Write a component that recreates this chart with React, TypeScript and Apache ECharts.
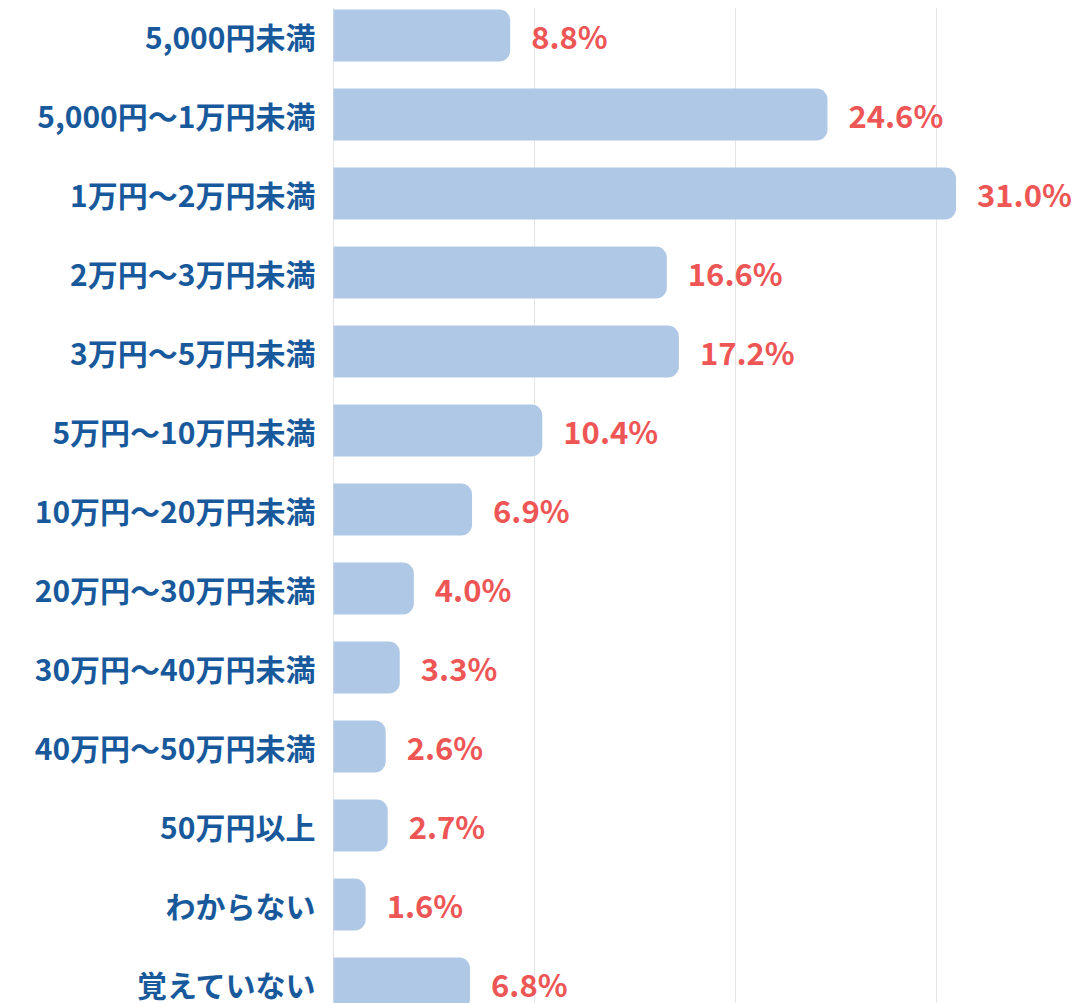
import React, { useEffect, useRef } from "react";
import * as echarts from "echarts";

const categories = [
  "5,000円未満",
  "5,000円〜1万円未満",
  "1万円〜2万円未満",
  "2万円〜3万円未満",
  "3万円〜5万円未満",
  "5万円〜10万円未満",
  "10万円〜20万円未満",
  "20万円〜30万円未満",
  "30万円〜40万円未満",
  "40万円〜50万円未満",
  "50万円以上",
  "わからない",
  "覚えていない",
];
const values = [8.8, 24.6, 31.0, 16.6, 17.2, 10.4, 6.9, 4.0, 3.3, 2.6, 2.7, 1.6, 6.8];

const FONT = "'Noto Sans CJK JP', 'Noto Sans', sans-serif";

export default function App() {
  const ref = useRef<HTMLDivElement>(null);
  useEffect(() => {
    document.body.style.margin = "0";
    const chart = echarts.init(ref.current!, null, { renderer: "svg" });
    const gridLeft = 333.5;
    const pxPerUnit = 20.08;
    const xMax = 40;
    const gridWidth = pxPerUnit * xMax;
    chart.setOption({
      animation: false,
      backgroundColor: "#ffffff",
      grid: [
        { left: gridLeft, width: gridWidth, top: -4, height: 1027, containLabel: false, outerBoundsMode: "none" },
        { left: gridLeft, width: gridWidth, top: 8, height: 1020, containLabel: false, outerBoundsMode: "none" },
      ],
      xAxis: [
        {
          type: "value",
          gridIndex: 0,
          min: 0,
          max: xMax,
          interval: 10,
          axisLine: { show: false },
          axisTick: { show: false },
          axisLabel: { show: false },
          splitLine: { show: false },
        },
        {
          type: "value",
          gridIndex: 1,
          min: 0,
          max: xMax,
          interval: 10,
          axisLine: { show: false },
          axisTick: { show: false },
          axisLabel: { show: false },
          splitLine: { show: true, lineStyle: { color: "#e4e4e4", width: 1 } },
        },
      ],
      yAxis: [
        {
          type: "category",
          gridIndex: 0,
          inverse: true,
          data: categories,
          axisLine: { show: false },
          axisTick: { show: false },
          axisLabel: {
            margin: 18,
            color: "#18599c",
            fontFamily: FONT,
            fontWeight: "bold",
            fontSize: 30,
            lineHeight: 28,
            padding: [0, 0, 2, 0],
          },
        },
        {
          type: "value",
          gridIndex: 1,
          show: false,
        },
      ],
      series: [
        {
          type: "bar",
          xAxisIndex: 0,
          yAxisIndex: 0,
          data: values,
          barWidth: 52,
          itemStyle: { color: "#aec8e6", borderRadius: [0, 11, 11, 0] },
          label: {
            show: true,
            position: "right",
            distance: 21,
            color: "#ee5656",
            fontFamily: FONT,
            fontWeight: "bold",
            fontSize: 31,
            lineHeight: 28,
            padding: [0, 0, 2, 0],
            formatter: (p: any) => p.value.toFixed(1) + "%",
          },
          z: 3,
        },
      ],
    });
    return () => chart.dispose();
  }, []);
  return <div ref={ref} style={{ width: 1083, height: 1003, position: "absolute", left: 0, top: 0 }} />;
}
